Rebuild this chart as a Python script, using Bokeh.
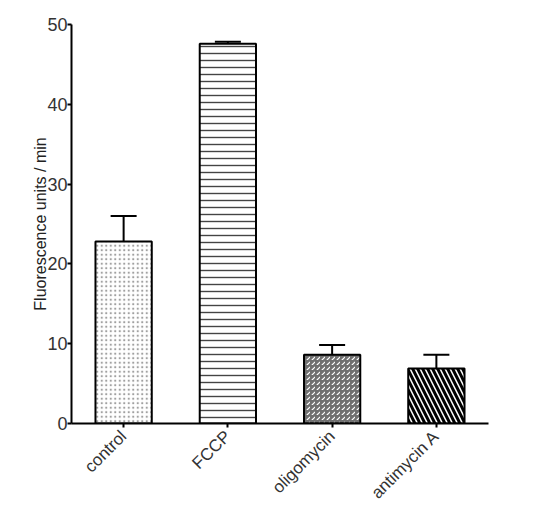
from math import pi

from bokeh.plotting import figure
from bokeh.models import ColumnDataSource, Whisker, TeeHead, FactorRange
from bokeh.embed import file_html
from bokeh.resources import INLINE

# data
treatments = ["control", "FCCP", "oligomycin", "antimycin A"]
rate = [22.8, 47.6, 8.6, 6.9]
sem = [3.2, 0.25, 1.25, 1.7]

FONT = "Liberation Sans"

p = figure(x_range=FactorRange(*treatments, range_padding=0), y_range=(0, 50),
           width=520, height=512, output_backend="svg", toolbar_location=None,
           min_border_left=71, min_border_right=32, min_border_top=24, min_border_bottom=89)
p.outline_line_color = None
p.xgrid.grid_line_color = None
p.ygrid.grid_line_color = None

# each bar has its own fill pattern
styles = [
    dict(fill_color="white", hatch_pattern="dot", hatch_color="#a0a0a0", hatch_scale=4.5, hatch_weight=1.1),
    dict(fill_color="white", hatch_pattern="horizontal_line", hatch_color="#444444", hatch_scale=7, hatch_weight=1.4),
    dict(fill_color="#707070", hatch_pattern="right_diagonal_dash", hatch_color="white", hatch_scale=5, hatch_weight=1.2),
    dict(fill_color="white", hatch_pattern="left_diagonal_line", hatch_color="black", hatch_scale=10, hatch_weight=3),
]
for name, val, st in zip(treatments, rate, styles):
    p.vbar(x=[name], top=[val], bottom=0, width=0.54, line_color="black", line_width=2, **st)

err = ColumnDataSource(dict(x=treatments, base=rate, upper=[r + s for r, s in zip(rate, sem)]))
whisk = Whisker(source=err, base="x", lower="base", upper="upper",
                line_color="black", line_width=2,
                upper_head=TeeHead(size=26, line_width=2, line_color="black"), lower_head=None)
p.add_layout(whisk)

p.yaxis.ticker = [0, 10, 20, 30, 40, 50]
p.yaxis.axis_label = "Fluorescence units / min"
p.yaxis.axis_label_text_font = FONT
p.yaxis.axis_label_text_font_style = "normal"
p.yaxis.axis_label_text_font_size = "16px"
p.yaxis.axis_label_text_color = "#222222"
p.yaxis.axis_label_standoff = -5

for ax in (p.xaxis, p.yaxis):
    ax.axis_line_width = 2
    ax.axis_line_color = "black"
    ax.major_tick_line_width = 2
    ax.major_tick_line_color = "black"
    ax.major_tick_out = 4
    ax.major_tick_in = 0
    ax.minor_tick_line_color = None
    ax.major_label_text_font = FONT
    ax.major_label_text_color = "#333333"

p.yaxis.major_label_text_font_size = "18px"
p.yaxis.major_label_standoff = 0
p.xaxis.major_label_text_font_size = "17px"
p.xaxis.major_label_orientation = pi / 4
p.xaxis.major_label_standoff = 6

open("out.html", "w").write(file_html(p, INLINE))
